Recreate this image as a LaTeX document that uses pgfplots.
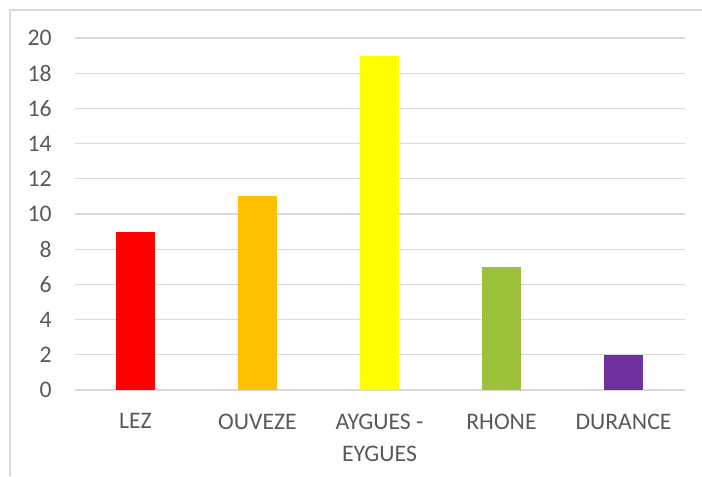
\documentclass[border=0pt]{standalone}
\usepackage{pgfplots}
\pgfplotsset{compat=1.18}
\usepackage{fontspec}
\setmainfont{Carlito}
\definecolor{gridc}{HTML}{D9D9D9}
\definecolor{labc}{HTML}{595959}
\definecolor{cred}{HTML}{FF0000}
\definecolor{corange}{HTML}{FFC000}
\definecolor{cyellow}{HTML}{FFFF00}
\definecolor{cgreen}{RGB}{155,192,58}
\definecolor{cpurple}{HTML}{7030A0}
\begin{document}
\begin{tikzpicture}
\path[use as bounding box] (0pt,0pt) rectangle (526.5pt,357pt);
\draw[gridc, line width=1.2pt] (7.5pt,0pt) -- (7.5pt,349.5pt) -- (526.5pt,349.5pt);
\begin{axis}[
  at={(55.875pt,64.5pt)}, anchor=south west,
  scale only axis,
  width=457.5pt, height=264pt,
  xmin=-0.5, xmax=4.5, ymin=0, ymax=20,
  ytick={0,2,...,20},
  xtick={0,1,2,3,4},
  xticklabels={LEZ, OUVEZE, {AYGUES -\\EYGUES}, RHONE, DURANCE},
  ymajorgrids, grid style={gridc, line width=0.8pt},
  axis lines*=left,
  x axis line style={gridc, line width=0.8pt, -},
  y axis line style={draw=none},
  major tick length=0pt,
  tick style={draw=none},
  ticklabel style={font=\fontsize{17.8}{24}\selectfont, text=labc},
  yticklabel style={anchor=east, inner sep=0pt, xshift=-17pt},
  xticklabel style={anchor=north, inner sep=0pt, yshift=-17.5pt, align=center},
  /pgf/number format/assume math mode=true,
  ybar, bar width=29.25pt, bar shift=0pt,
  clip=false,
]
\addplot[fill=cred, draw=none] coordinates {(0,9)};
\addplot[fill=corange, draw=none] coordinates {(1,11)};
\addplot[fill=cyellow, draw=none] coordinates {(2,19)};
\addplot[fill=cgreen, draw=none] coordinates {(3,7)};
\addplot[fill=cpurple, draw=none] coordinates {(4,2)};
\end{axis}
\end{tikzpicture}
\end{document}
